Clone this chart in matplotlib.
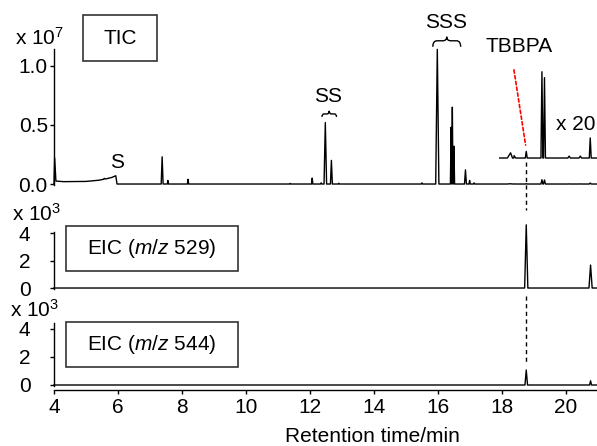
import matplotlib
matplotlib.use('Agg')
import matplotlib.pyplot as plt
import numpy as np
from matplotlib.patches import Rectangle, PathPatch
from matplotlib.path import Path

plt.rcParams['font.family'] = ['Liberation Sans', 'DejaVu Sans']
plt.rcParams['mathtext.fontset'] = 'custom'
plt.rcParams['mathtext.rm'] = 'Liberation Sans'
plt.rcParams['mathtext.it'] = 'Liberation Sans:italic'

# ---------------- data (retention time in min) ----------------
# TIC baseline knots (intensity x 1e7)
tic_base_t = [4.00, 4.02, 4.06, 4.30, 5.00, 5.40, 5.55, 5.57, 5.60, 5.80, 5.93, 5.97, 17.93, 20.95]
tic_base_v = [0.00, 0.22, 0.025, 0.020, 0.022, 0.032, 0.040, 0.048, 0.042, 0.055, 0.070, 0.0, 0.0, 0.0]
# TIC peaks
tic_peak_t = [7.38, 7.56, 8.19, 11.38, 12.07, 12.35, 12.48, 12.67, 12.90, 15.50, 15.98,
              16.41, 16.45, 16.50, 16.86, 16.99, 17.13, 18.27, 18.38, 18.76, 19.25, 19.33,
              20.10, 20.45, 20.76]
tic_peak_h = [0.23, 0.03, 0.04, 0.005, 0.05, 0.01, 0.52, 0.20, 0.006, 0.01, 1.14,
              0.48, 0.65, 0.32, 0.12, 0.03, 0.01, 0.0022, 0.0010, 0.0028, 0.0365, 0.034,
              0.0008, 0.0008, 0.0085]
tic_peak_w = [0.03, 0.02, 0.02, 0.02, 0.02, 0.02, 0.04, 0.03, 0.02, 0.02, 0.05,
              0.02, 0.02, 0.02, 0.03, 0.02, 0.02, 0.10, 0.05, 0.03, 0.03, 0.03,
              0.04, 0.04, 0.03]
zoom_start = 17.93
zoom_factor = 20
zoom_offset = 0.22

# EIC m/z 529 (x 1e3)
eic529_t = [18.76, 20.77]
eic529_h = [4.6, 1.67]
eic529_w = [0.05, 0.05]
# EIC m/z 544 (x 1e3)
eic544_t = [18.76, 20.77]
eic544_h = [1.07, 0.30]
eic544_w = [0.04, 0.03]

x_ticks = [4, 6, 8, 10, 12, 14, 16, 18, 20]
tic_ticks = [0.0, 0.5, 1.0]
tic_ticklabels = ['0.0', '0.5', '1.0']
eic_ticks = [0, 2, 4]


def build_trace(base_t, base_v, pk_t, pk_h, pk_w):
    pts = list(zip(base_t, base_v))
    for t, h, w in zip(pk_t, pk_h, pk_w):
        pts += [(t - w, 0.0), (t, h), (t + w, 0.0)]
    pts.sort(key=lambda p: p[0])
    arr = np.array(pts)
    return arr[:, 0], arr[:, 1]


tic_t, tic_v = build_trace(tic_base_t, tic_base_v, tic_peak_t, tic_peak_h, tic_peak_w)
m = tic_t >= zoom_start
zt, zv = tic_t[m], zoom_offset + zoom_factor * tic_v[m]
e1_t, e1_v = build_trace([4.0, 20.95], [0, 0], eic529_t, eic529_h, eic529_w)
e2_t, e2_v = build_trace([4.0, 20.95], [0, 0], eic544_t, eic544_h, eic544_w)

# ---------------- figure ----------------
W, H = 597, 446
fig = plt.figure(figsize=(W / 100, H / 100), dpi=100)


def rect(l, t, r, b):
    return [l / W, 1 - b / H, (r - l) / W, (b - t) / H]


def px(x, y):
    return x / W, 1 - y / H


ax1 = fig.add_axes(rect(54, 49.3, 596, 185.2))
ax2 = fig.add_axes(rect(54, 231.7, 596, 288.7))
ax3 = fig.add_axes(rect(54, 322.7, 596, 385.7))

xlim = (4.0, 20.94)
FS = 15
for ax in (ax1, ax2, ax3):
    ax.set_xlim(*xlim)
    ax.patch.set_alpha(0)
    for s in ('top', 'right'):
        ax.spines[s].set_visible(False)
    ax.spines['left'].set_linewidth(1.0)
    ax.tick_params(axis='y', direction='out', length=3, width=1.0, labelsize=FS)

for ax in (ax1, ax2):
    ax.spines['bottom'].set_visible(False)
    ax.set_xticks([])

ax1.set_ylim(-0.01, 1.14)
ax1.set_yticks(tic_ticks)
ax1.set_yticklabels(tic_ticklabels)
ax1.tick_params(axis='y', pad=1.5)

ax2.set_ylim(-0.05, 4.1)
ax3.set_ylim(-0.05, 4.45)
for ax in (ax2, ax3):
    ax.set_yticks(eic_ticks)
    ax.tick_params(axis='y', pad=14)

ax3.spines['bottom'].set_position(('outward', 3))
ax3.spines['bottom'].set_linewidth(1.0)
ax3.set_xticks(x_ticks)
ax3.tick_params(axis='x', direction='out', length=3, width=1.0, labelsize=FS, pad=3)

lw = 1.0
ax1.plot(tic_t, tic_v, color='black', lw=lw, clip_on=False)
ax1.plot(zt, zv, color='black', lw=lw, clip_on=False)
ax2.plot(e1_t, e1_v, color='black', lw=lw, clip_on=False)
ax3.plot(e2_t, e2_v, color='black', lw=lw, clip_on=False)

# dashed guide through TBBPA retention time
tb = eic529_t[0]


def y_in(ax_from, y, ax_to):
    d = ax_from.transData.transform((tb, y))
    return ax_to.transData.inverted().transform(d)[1]


dash = (0, (3, 2.5))
ax1.plot([tb, tb], [0.19, y_in(ax2, 5.67, ax1)], color='black', lw=1.0,
         linestyle=dash, clip_on=False)
ax2.plot([tb, tb], [-0.6, y_in(ax3, 1.6, ax2)], color='black', lw=1.0,
         linestyle=dash, clip_on=False)

# red dashed pointer to TBBPA
ax1.annotate('', xy=(tb - 0.02, 0.33), xytext=(18.375, 0.966),
             arrowprops=dict(arrowstyle='-', color='red', lw=1.2,
                             linestyle=(0, (2, 1.5)), shrinkA=0, shrinkB=0),
             annotation_clip=False)


def brace(ax, x0, x1, yb, yt, ytip, lw=1.0):
    xc = (x0 + x1) / 2
    r = (x1 - x0) * 0.15
    verts = [(x0, yb), (x0, yt), (x0 + r, yt), (xc - r, yt), (xc, yt), (xc, ytip),
             (xc, yt), (xc + r, yt), (x1 - r, yt), (x1, yt), (x1, yb)]
    codes = [Path.MOVETO, Path.CURVE3, Path.CURVE3, Path.LINETO, Path.CURVE3, Path.CURVE3,
             Path.CURVE3, Path.CURVE3, Path.LINETO, Path.CURVE3, Path.CURVE3]
    p = PathPatch(Path(verts, codes), fill=False, lw=lw, color='black', clip_on=False)
    ax.add_patch(p)


brace(ax1, 15.84, 16.71, 1.161, 1.212, 1.246)
brace(ax1, 12.375, 12.83, 0.568, 0.593, 0.619)

# labels
fig.text(*px(117, 163), 'S', ha='center', va='center', fontsize=FS)
fig.text(*px(328, 96), 'SS', ha='center', va='center', fontsize=FS)
fig.text(*px(446, 22), 'SSS', ha='center', va='center', fontsize=FS)
fig.text(*px(519, 47), 'TBBPA', ha='center', va='center', fontsize=FS)
fig.text(*px(576, 124), 'x 20', ha='center', va='center', fontsize=FS)

fig.text(*px(15, 45), 'x 10$^7$', ha='left', va='baseline', fontsize=FS)
fig.text(*px(12, 221), 'x 10$^3$', ha='left', va='baseline', fontsize=FS)
fig.text(*px(10, 317), 'x 10$^3$', ha='left', va='baseline', fontsize=FS)

# boxes
box_col = '0.2'
for (l, t, r, b, label) in [(83, 15, 157, 61, 'TIC'),
                            (66, 226, 238, 271, 'EIC ($m/z$ 529)'),
                            (66, 322, 238, 367, 'EIC ($m/z$ 544)')]:
    fig.add_artist(Rectangle((l / W, 1 - b / H), (r - l) / W, (b - t) / H,
                             transform=fig.transFigure, fill=False, lw=1.2,
                             edgecolor=box_col))
    fig.text(*px((l + r) / 2, (t + b) / 2), label, ha='center', va='center', fontsize=FS)

fig.text(*px(372.5, 437), 'Retention time/min', ha='center', va='center', fontsize=FS)

fig.savefig('out.png', dpi=100)
